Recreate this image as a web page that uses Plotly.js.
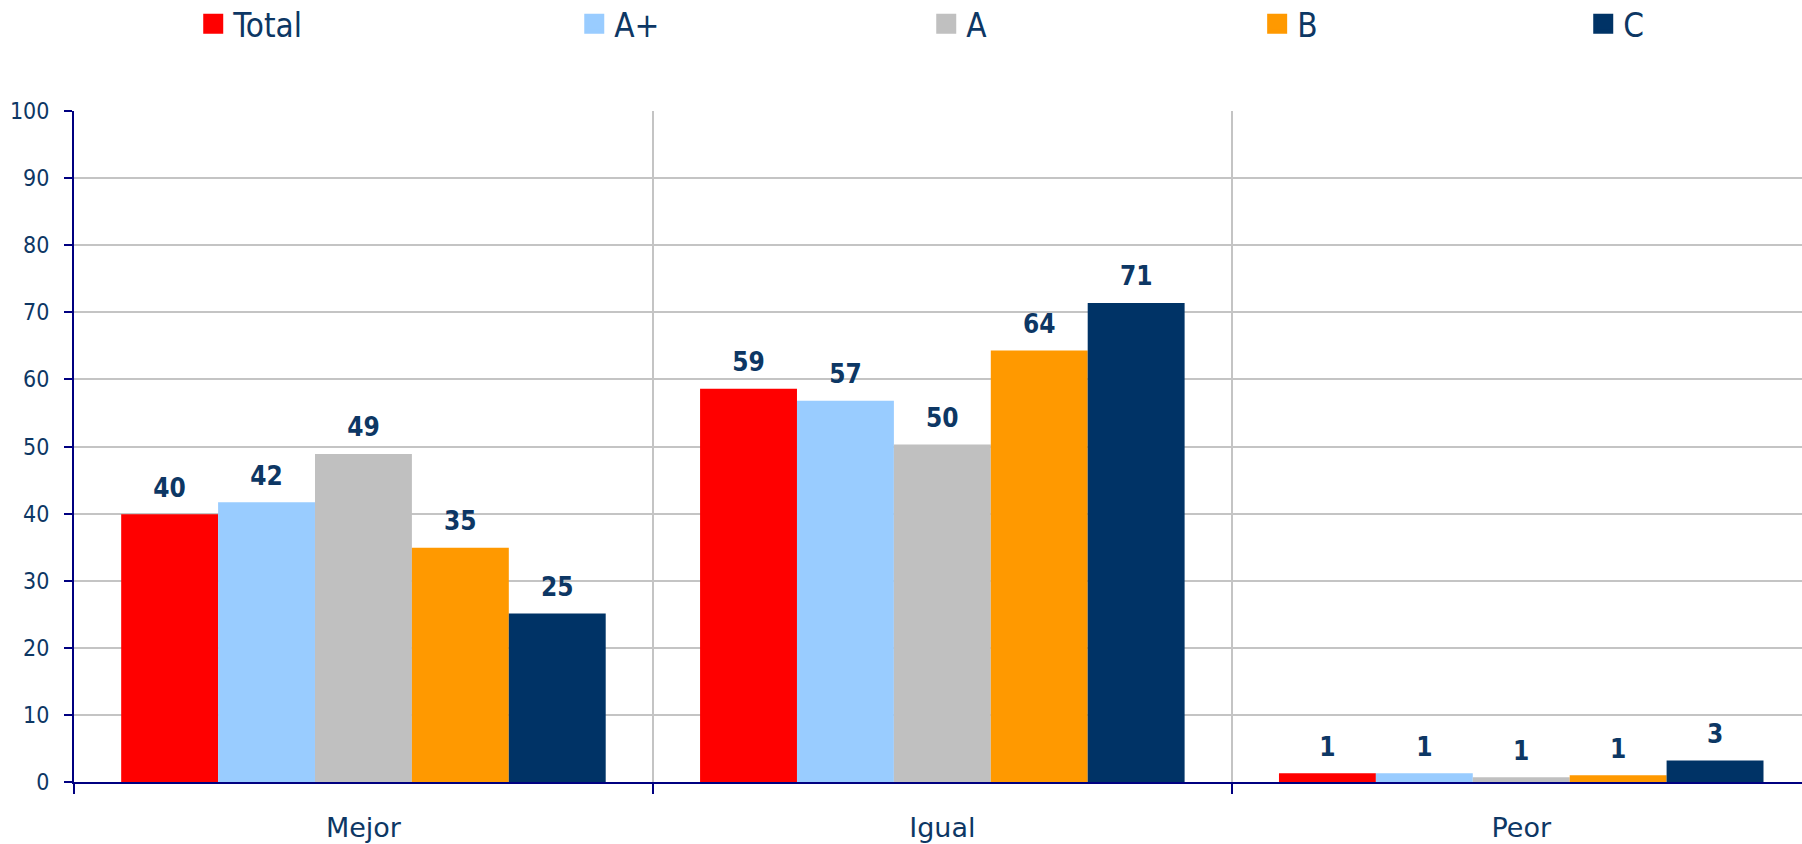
<!DOCTYPE html>
<html>
<head>
<meta charset="utf-8">
<script src="https://cdn.plot.ly/plotly-3.0.1.min.js"></script>
<style>
  html, body { margin: 0; padding: 0; background: #ffffff; }
  #chart { width: 1802px; height: 844px; }
</style>
</head>
<body>
<div id="chart"></div>
<script>
// Categories and series
const categories = ['Mejor', 'Igual', 'Peor'];
const seriesNames = ['Total', 'A+', 'A', 'B', 'C'];
const seriesColors = ['#FF0000', '#99CCFF', '#C0C0C0', '#FF9900', '#003366'];

const totalValues = [39.9, 58.6, 1.3];
const aPlusValues = [41.7, 56.8, 1.3];
const aValues     = [48.9, 50.3, 0.7];
const bValues     = [34.9, 64.3, 1.0];
const cValues     = [25.1, 71.4, 3.2];
const seriesValues = [totalValues, aPlusValues, aValues, bValues, cValues];

const yTickValues = [0, 10, 20, 30, 40, 50, 60, 70, 80, 90, 100];

const FONT = '"DejaVu Sans Condensed", "DejaVu Sans", sans-serif';
const FONT_WIDE = '"DejaVu Sans", sans-serif';
const NAVY_TEXT = '#0D3764';
const AXIS_NAVY = '#000080';
const GRID = '#C4C4C4';
const GAP = 0.163;

// Where each one-item legend sits along the top
const legendX = [0.0690, 0.2895, 0.4932, 0.6847, 0.8734];
const legendIds = ['legend', 'legend2', 'legend3', 'legend4', 'legend5'];

const traces = [];

// Bars
seriesNames.forEach((name, i) => {
  traces.push({
    type: 'bar',
    name: name,
    x: categories,
    y: seriesValues[i],
    offsetgroup: 's' + i,
    marker: { color: seriesColors[i] },
    showlegend: false,
    hoverinfo: 'x+y+name'
  });
});

// Value labels, grouped in the same slots as the bars
seriesNames.forEach((name, i) => {
  traces.push({
    type: 'scatter',
    mode: 'markers+text',
    name: name,
    x: categories,
    y: seriesValues[i],
    offsetgroup: 's' + i,
    texttemplate: '%{y:.0f}',
    textposition: 'top center',
    textfont: { family: FONT, size: 26, color: NAVY_TEXT, weight: 'bold' },
    marker: { size: 16, opacity: 0 },
    cliponaxis: false,
    showlegend: false,
    hoverinfo: 'skip'
  });
});

// Legend entries: square swatches (share the label slot of their series)
seriesNames.forEach((name, i) => {
  traces.push({
    type: 'scatter',
    mode: 'markers',
    name: name,
    x: [null],
    y: [null],
    offsetgroup: 's' + i,
    marker: { symbol: 'square', size: 16, color: seriesColors[i],
              line: { color: seriesColors[i], width: 4 } },
    showlegend: true,
    legend: legendIds[i],
    hoverinfo: 'skip'
  });
});

const layout = {
  width: 1802,
  height: 844,
  margin: { l: 74, r: 0, t: 111, b: 62, autoexpand: false },
  paper_bgcolor: '#ffffff',
  plot_bgcolor: '#ffffff',
  barmode: 'group',
  bargap: GAP,
  bargroupgap: 0,
  scattermode: 'group',
  scattergap: GAP,
  font: { family: FONT, color: NAVY_TEXT },
  xaxis: {
    type: 'category',
    range: [-0.5, 2.485],
    tickson: 'boundaries',
    ticks: 'outside',
    ticklen: 10,
    tickwidth: 2,
    tickcolor: AXIS_NAVY,
    showgrid: true,
    gridcolor: GRID,
    gridwidth: 2,
    showline: true,
    linecolor: AXIS_NAVY,
    linewidth: 2,
    ticklabelstandoff: 21,
    tickfont: { family: FONT_WIDE, size: 27, color: NAVY_TEXT },
    fixedrange: true
  },
  yaxis: {
    range: [0, 100],
    tickvals: yTickValues,
    ticktext: yTickValues.map(String),
    ticks: 'outside',
    ticklen: 8,
    tickwidth: 2,
    tickcolor: AXIS_NAVY,
    showgrid: true,
    gridcolor: GRID,
    gridwidth: 2,
    zeroline: false,
    showline: true,
    linecolor: AXIS_NAVY,
    linewidth: 2,
    ticklabelstandoff: 10,
    tickfont: { family: FONT, size: 23, color: NAVY_TEXT },
    fixedrange: true
  },
  showlegend: true
};

legendIds.forEach((id, i) => {
  layout[id] = {
    orientation: 'h',
    x: legendX[i],
    xanchor: 'left',
    y: 1.130,
    yanchor: 'middle',
    bgcolor: 'rgba(0,0,0,0)',
    borderwidth: 0,
    font: { family: FONT, size: 33, color: NAVY_TEXT },
    itemclick: false,
    itemdoubleclick: false
  };
});

Plotly.newPlot('chart', traces, layout, { displayModeBar: false, staticPlot: true });
</script>
</body>
</html>
